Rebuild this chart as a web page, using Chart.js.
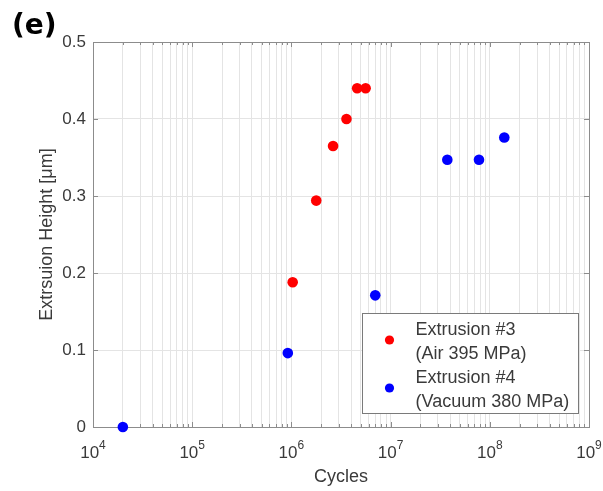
<!DOCTYPE html>
<html>
<head>
<meta charset="utf-8">
<script src="https://cdn.jsdelivr.net/npm/chart.js@4.4.1/dist/chart.umd.min.js"></script>
<style>
  html, body { margin: 0; padding: 0; background: #ffffff; }
  canvas { display: block; }
</style>
</head>
<body>
<canvas id="chart" width="603" height="491"></canvas>
<script>
// Extrusion height measured against loading cycles
const airCycles = [1.03e6, 1.78e6, 2.63e6, 3.59e6, 4.6e6, 5.6e6];
const airHeight = [0.188, 0.294, 0.365, 0.40, 0.44, 0.44];
const vacuumCycles = [2e4, 9.2e5, 7.0e6, 3.73e7, 7.78e7, 1.4e8];
const vacuumHeight = [0, 0.096, 0.171, 0.347, 0.347, 0.376];

const seriesLines = [
  ['Extrusion #3', '(Air 395 MPa)'],
  ['Extrusion #4', '(Vacuum 380 MPa)']
];
const seriesColors = ['#ff0000', '#0000ff'];

const xExponents = [4, 5, 6, 7, 8, 9];
const yTicks = [0, 0.1, 0.2, 0.3, 0.4, 0.5];
const panelLabel = '(e)';
const xTitle = 'Cycles';
const yTitle = 'Extrsuion Height [\u03bcm]';

const FONT = "'Liberation Sans', Arial, Helvetica, sans-serif";
const TEXT = '#3a3a3a';
const GRID = '#e4e4e4';
const FRAME = '#8c8c8c';

// every 1..9 x 10^n position on the log axis
function logTickValues() {
  const vals = [];
  for (let i = 0; i < xExponents.length - 1; i++) {
    for (let k = 1; k <= 9; k++) vals.push(k * Math.pow(10, xExponents[i]));
  }
  vals.push(Math.pow(10, xExponents[xExponents.length - 1]));
  return vals;
}

function toPoints(xs, ys) {
  return xs.map((x, i) => ({ x: x, y: ys[i] }));
}

// Box around the plot area with inward tick marks
const framePlugin = {
  id: 'frame',
  beforeDatasetsDraw(chart) {
    const { ctx, chartArea: a, scales } = chart;
    ctx.save();
    ctx.strokeStyle = FRAME;
    ctx.lineWidth = 1;
    ctx.beginPath();
    // y ticks on left and right edges
    yTicks.forEach(v => {
      const y = Math.round(scales.y.getPixelForValue(v)) + 0.5;
      ctx.moveTo(a.left, y); ctx.lineTo(a.left + 5, y);
      ctx.moveTo(a.right, y); ctx.lineTo(a.right - 5, y);
    });
    // x ticks on bottom and top edges
    logTickValues().forEach(v => {
      const x = Math.round(scales.x.getPixelForValue(v)) + 0.5;
      const major = Math.abs(Math.log10(v) - Math.round(Math.log10(v))) < 1e-9;
      const len = major ? 5 : 3;
      ctx.moveTo(x, a.bottom); ctx.lineTo(x, a.bottom - len);
      ctx.moveTo(x, a.top); ctx.lineTo(x, a.top + len);
    });
    ctx.stroke();
    ctx.strokeRect(Math.round(a.left) + 0.5, Math.round(a.top) + 0.5,
                   Math.round(a.right - a.left), Math.round(a.bottom - a.top));
    ctx.restore();
  },
  afterDraw(chart) {
    const { ctx, chartArea: a, scales } = chart;
    ctx.save();

    // power-of-ten labels under the x axis
    ctx.fillStyle = TEXT;
    ctx.textBaseline = 'alphabetic';
    ctx.textAlign = 'left';
    xExponents.forEach(p => {
      const px = scales.x.getPixelForValue(Math.pow(10, p));
      ctx.font = '17px ' + FONT;
      const wb = ctx.measureText('10').width;
      ctx.font = '12px ' + FONT;
      const we = ctx.measureText(String(p)).width;
      const x0 = px - (wb + we) / 2;
      ctx.font = '17px ' + FONT;
      ctx.fillText('10', x0, a.bottom + 31);
      ctx.font = '12px ' + FONT;
      ctx.fillText(String(p), x0 + wb, a.bottom + 22);
    });

    // legend box
    const bw = 216, bh = 100;
    const bx = Math.round(a.right - 11 - bw) + 0.5;
    const by = Math.round(a.bottom - 14 - bh) + 0.5;
    ctx.fillStyle = '#ffffff';
    ctx.fillRect(bx, by, bw, bh);
    ctx.strokeStyle = '#7a7a7a';
    ctx.lineWidth = 1;
    ctx.strokeRect(bx, by, bw, bh);
    ctx.font = '18px ' + FONT;
    chart.data.datasets.forEach((ds, i) => {
      const base = by + 21.5 + i * 48;
      ctx.fillStyle = ds.backgroundColor;
      ctx.beginPath();
      ctx.arc(bx + 27, base + 5, 4.6, 0, Math.PI * 2);
      ctx.fill();
      ctx.fillStyle = TEXT;
      seriesLines[i].forEach((line, j) => {
        ctx.fillText(line, bx + 53, base + j * 24);
      });
    });

    // panel label
    ctx.fillStyle = '#000000';
    ctx.font = "bold 28px 'DejaVu Sans', Verdana, sans-serif";
    ctx.fillText(panelLabel, 12, 34);
    ctx.restore();
  }
};

new Chart(document.getElementById('chart'), {
  type: 'scatter',
  data: {
    datasets: [
      {
        label: seriesLines[0].join(' '),
        data: toPoints(airCycles, airHeight),
        backgroundColor: seriesColors[0],
        borderColor: seriesColors[0],
        borderWidth: 0,
        pointRadius: 5.3,
        clip: false
      },
      {
        label: seriesLines[1].join(' '),
        data: toPoints(vacuumCycles, vacuumHeight),
        backgroundColor: seriesColors[1],
        borderColor: seriesColors[1],
        borderWidth: 0,
        pointRadius: 5.3,
        clip: false
      }
    ]
  },
  options: {
    responsive: false,
    animation: false,
    devicePixelRatio: 1,
    layout: { padding: { top: 42, right: 14, bottom: 3, left: 36 } },
    plugins: {
      legend: { display: false },
      tooltip: { enabled: false }
    },
    scales: {
      x: {
        type: 'logarithmic',
        min: Math.pow(10, xExponents[0]),
        max: Math.pow(10, xExponents[xExponents.length - 1]),
        afterBuildTicks(scale) {
          scale.ticks = logTickValues().map(v => ({ value: v }));
        },
        afterFit(scale) {
          scale.height = 61;
          scale.paddingLeft = 0;
          scale.paddingRight = 0;
        },
        ticks: { display: false },
        grid: { color: GRID, drawTicks: false, lineWidth: 1 },
        border: { display: false },
        title: {
          display: true,
          text: xTitle,
          color: TEXT,
          font: { family: FONT, size: 18 },
          padding: 0
        }
      },
      y: {
        min: 0,
        max: 0.5,
        afterBuildTicks(scale) {
          scale.ticks = yTicks.map(v => ({ value: v }));
        },
        afterFit(scale) {
          scale.width = 57;
          scale.paddingTop = 0;
          scale.paddingBottom = 0;
        },
        ticks: {
          color: TEXT,
          font: { family: FONT, size: 17 },
          padding: 7,
          callback: v => String(Math.round(v * 10) / 10)
        },
        grid: { color: GRID, drawTicks: false, lineWidth: 1 },
        border: { display: false },
        title: {
          display: true,
          text: yTitle,
          color: TEXT,
          font: { family: FONT, size: 18 },
          padding: 0
        }
      }
    }
  },
  plugins: [framePlugin]
});
</script>
</body>
</html>
